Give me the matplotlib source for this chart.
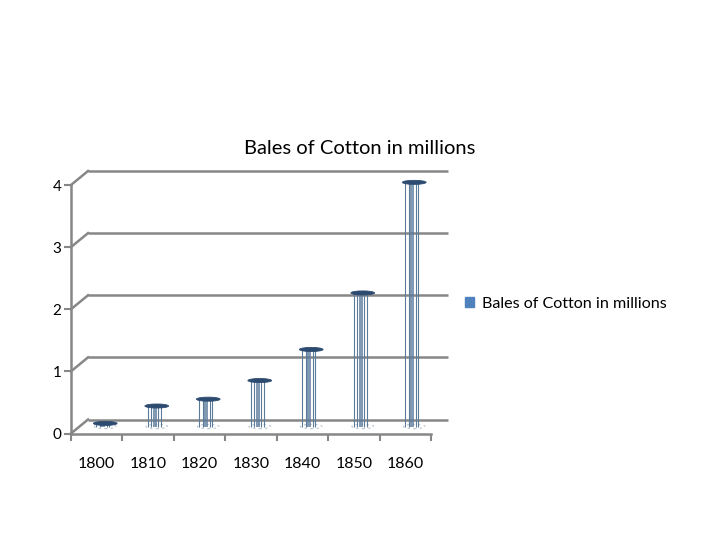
import matplotlib
matplotlib.use("Agg")

import matplotlib.pyplot as plt
import matplotlib.transforms as mtransforms
from matplotlib.patches import Ellipse, Patch

plt.rcParams['font.family'] = ['Lato', 'DejaVu Sans']

years = ["1800", "1810", "1820", "1830", "1840", "1850", "1860"]
bales = [0.05, 0.33, 0.44, 0.74, 1.24, 2.15, 3.93]
y_ticks = [0, 1, 2, 3, 4]

title = "Bales of Cotton in millions"
series_name = "Bales of Cotton in millions"

grid_col = "#878787"
line_col = "#5b7b9b"
cap_col = "#2d4b70"
legend_col = "#4f81bd"

fig = plt.figure(figsize=(7.2, 5.4), dpi=100)
ax = fig.add_axes([0.0986, 0.1972, 0.5007, 0.4602])

ax.set_xlim(-0.5, len(years) - 0.5)
ax.set_ylim(0, 4)

# depth offsets in pixels (back wall and mid depth)
back_dx, back_dy = 17, 14
mid_dx, mid_dy = 8.5, 7

def shifted(dx, dy):
    return mtransforms.offset_copy(ax.transData, fig=fig, x=dx, y=dy, units="dots")

# back wall gridlines
ax.hlines(y_ticks, -0.5, len(years) - 0.5, colors=grid_col, lw=1.8,
          transform=shifted(back_dx, back_dy), clip_on=False)

# diagonals joining front axis to back wall
ax_w = fig.get_figwidth() * fig.dpi * 0.5007
ax_h = fig.get_figheight() * fig.dpi * 0.4602
ddx = back_dx / (ax_w / len(years))
ddy = back_dy / (ax_h / 4)
for v in y_ticks:
    ax.plot([-0.5, -0.5 + ddx], [v, v + ddy], color=grid_col, lw=1.8, clip_on=False)

# cylinders drawn as thin vertical strokes
xs = list(range(len(years)))
strokes = [(-9, 0.8), (-5.5, 0.8), (-3, 1.1), (-0.8, 1.1), (1.6, 0.8), (4, 0.8)]
for off, lw in strokes:
    ax.vlines(xs, 0, bales, colors=line_col, lw=lw,
              transform=shifted(mid_dx + off, mid_dy), clip_on=False)

# bottom rims (faint) and top caps
for x, v in zip(xs, bales):
    ax.add_patch(Ellipse((x, 0.0), 0.42, 0.07, fill=False, ec="#b8c4cf",
                         lw=0.8, ls=(0, (2, 3)), transform=shifted(mid_dx, mid_dy),
                         clip_on=False))
    ax.add_patch(Ellipse((x, v), 0.46, 0.065, fc=cap_col, ec=cap_col, lw=0.6,
                         transform=shifted(mid_dx, mid_dy), clip_on=False, zorder=3))

# front axes
for side in ["top", "right"]:
    ax.spines[side].set_visible(False)
for side in ["left", "bottom"]:
    ax.spines[side].set_color(grid_col)
    ax.spines[side].set_linewidth(1.8)

ax.set_yticks(y_ticks)
ax.set_yticklabels([str(t) for t in y_ticks], fontsize=11)
ax.tick_params(axis="y", length=5, width=1.5, color=grid_col, pad=2)

ax.set_xticks([i - 0.5 for i in range(len(years) + 1)])
ax.set_xticklabels([])
ax.set_xticks(xs, minor=True)
ax.set_xticklabels(years, minor=True, fontsize=11.5)
ax.tick_params(axis="x", which="major", length=5, width=1.5, color=grid_col)
ax.tick_params(axis="x", which="minor", length=0, pad=17)

fig.text(0.5, 1 - 148 / 540, title, ha="center", va="center", fontsize=14.5)

handle = Patch(facecolor=legend_col, edgecolor=legend_col)
fig.legend([handle], [series_name], loc="center left",
           bbox_to_anchor=(450 / 720, 1 - 304 / 540), frameon=False,
           fontsize=11.6, handlelength=0.6, handleheight=0.6, handletextpad=0.5)

fig.savefig("out.png", dpi=100)
plt.close(fig)
